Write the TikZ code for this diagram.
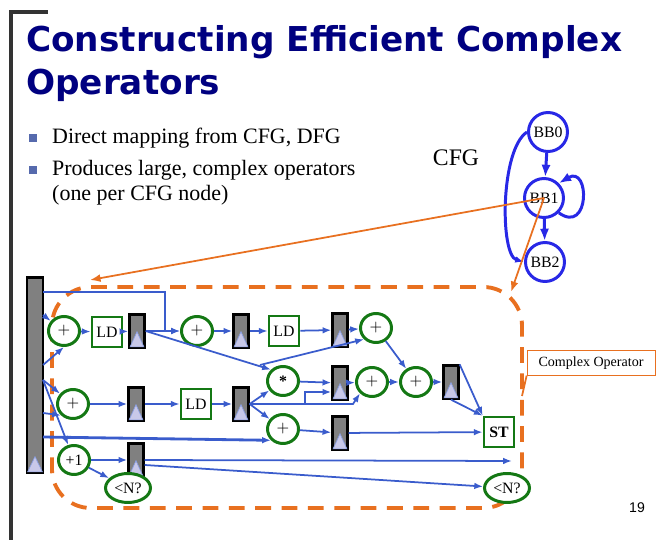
\documentclass[tikz,border=0pt]{standalone}
\usepackage{fontspec}
\setmainfont{Liberation Serif}
\newfontfamily\titlefont{DejaVu Sans}
\newfontfamily\pagefont{Liberation Sans}
\usetikzlibrary{arrows.meta,shapes.geometric}
\definecolor{wireblue}{RGB}{58,92,204}
\definecolor{cfgblue}{RGB}{40,40,230}
\definecolor{opgreen}{RGB}{20,120,20}
\definecolor{frameorange}{RGB}{232,112,32}
\definecolor{navy}{RGB}{0,0,128}
\definecolor{lav}{RGB}{200,200,232}
\tikzset{
  reg/.style={draw=black, line width=1.3pt, fill=gray, minimum width=0.3cm, minimum height=0.66cm, inner sep=0},
  op/.style={ellipse, draw=opgreen, line width=1.7pt, fill=white, minimum width=0.62cm, minimum height=0.58cm, inner sep=0, font=\fontsize{9}{9}\selectfont},
  mem/.style={draw=opgreen, line width=1.5pt, fill=white, minimum size=0.6cm, inner sep=0, font=\fontsize{9}{9}\selectfont},
  bb/.style={circle, draw=cfgblue, line width=1.7pt, minimum size=0.78cm, inner sep=0, font=\fontsize{9}{9}\selectfont},
  wire/.style={draw=wireblue, line width=1pt, -{Latex[length=5pt]}},
  point/.style={draw=frameorange, line width=1pt, -{Latex[length=6pt]}}
}
\begin{document}
\begin{tikzpicture}[x=0.02cm, y=-0.02cm]
    \useasboundingbox (0,0) rectangle (670,540);

    % slide frame and title
    \draw[line width=2pt, black!80] (11,540) -- (11,12) -- (48,12);
    \node[anchor=west, text=navy, font=\titlefont\bfseries\fontsize{19.5}{20}\selectfont] (title1) at (20,42) {Constructing Efficient Complex};
    \node[anchor=west, text=navy, font=\titlefont\bfseries\fontsize{19.5}{20}\selectfont] (title2) at (20,85) {Operators};

    % bullets
    \fill[wireblue!60!gray] (29,134) rectangle (37,142);
    \fill[wireblue!60!gray] (29,166) rectangle (37,174);
    \node[anchor=west, font=\fontsize{12.5}{14}\selectfont] (txt1) at (46,138) {Direct mapping from CFG, DFG};
    \node[anchor=west, font=\fontsize{12.5}{14}\selectfont] (txt2) at (46,170) {Produces large, complex operators};
    \node[anchor=west, font=\fontsize{12.5}{14}\selectfont] (txt3) at (46,195) {(one per CFG node)};

    % control flow graph
    \node[font=\fontsize{13.5}{14}\selectfont] (cfg) at (456,158) {CFG};
    \node[bb] (bb0) at (548,132) {BB0};
    \node[bb] (bb1) at (544,198) {BB1};
    \node[bb] (bb2) at (545,262) {BB2};
    \draw[draw=cfgblue, line width=1.7pt, -{Latex[length=7pt]}] (bb0) -- (bb1);
    \draw[draw=cfgblue, line width=1.7pt, -{Latex[length=7pt]}] (bb1) -- (bb2);
    \draw[draw=cfgblue, line width=1.7pt, -{Latex[length=7pt]}] (bb1.south east) .. controls (590,235) and (590,165) .. (bb1.north east);
    \draw[draw=cfgblue, line width=1.7pt, -{Latex[length=5pt]}] (bb0.west) .. controls (500,150) and (500,255) .. (bb2.west);

    % complex operator outline
    \draw[draw=frameorange, line width=2.2pt, dash pattern=on 9pt off 6pt, rounded corners=22pt] (52,287) rectangle (522,508);
    \node[draw=frameorange, fill=white, font=\fontsize{8}{9}\selectfont, minimum height=0.46cm, minimum width=2.56cm] (cplx) at (591,363) {Complex Operator};
    \draw[draw=frameorange, line width=1pt] (cplx.south west) -- (522,396);
    \draw[point] (bb1.center) -- (90,280);
    \draw[point] (bb1.center) -- (511,292);

    % registers
    \node[reg, minimum width=0.32cm, minimum height=3.9cm] (bar) at (35,375) {};
    \node[reg] (r1) at (137,331) {};
    \node[reg] (r2) at (241,331) {};
    \node[reg] (r3) at (340,330) {};
    \node[reg] (r4) at (340,383) {};
    \node[reg] (r5) at (340,433) {};
    \node[reg] (r6) at (451,382) {};
    \node[reg] (r7) at (241,404) {};
    \node[reg] (r8) at (136,404) {};
    \node[reg] (r9) at (136,460) {};
    \foreach \r in {bar,r1,r2,r3,r4,r5,r6,r7,r8,r9}
        \filldraw[fill=lav, draw=wireblue!60, line width=0.4pt] ([xshift=1pt,yshift=1pt]\r.south west) -- ([xshift=-1pt,yshift=1pt]\r.south east) -- ([yshift=0.34cm]\r.south) -- cycle;

    % operators
    \node[op] (add1) at (64,331) {$+$};
    \node[op] (add2) at (197,331) {$+$};
    \node[op] (add3) at (73,404) {$+$};
    \node[op] (inc) at (74,460) {+1};
    \node[op, minimum width=0.9cm] (cmp1) at (128,488) {<N?};
    \node[op] (mul) at (283,381) {\textbf{*}};
    \node[op] (add4) at (283,429) {$+$};
    \node[op] (add5) at (376,328) {$+$};
    \node[op] (add6) at (372,382) {$+$};
    \node[op] (add7) at (416,382) {$+$};
    \node[op, minimum width=0.9cm] (cmp2) at (507,488) {<N?};
    \node[mem] (ld1) at (107,332) {LD};
    \node[mem] (ld2) at (284,331) {LD};
    \node[mem] (ld3) at (196,404) {LD};
    \node[mem, font=\bfseries\fontsize{9}{9}\selectfont] (st) at (499,432) {ST};

    % ports on the register bar
    \coordinate (b1) at (43,292);
    \coordinate (b2) at (43,315);
    \coordinate (b3) at (43,365);
    \coordinate (b4) at (43,380);
    \coordinate (b5) at (43,413);
    \coordinate (b6) at (43,437);
    \coordinate (k1) at (260,365);
    \coordinate (k2) at (305,404);
    \coordinate (k3) at (353,404);

    % datapath
    \draw[wire] (b2) -- (add1);
    \draw[wire] (b3) -- (add1.south);
    \draw[wire] (b1) -- (165,292) -- (165,331) -- (add2);
    \draw[wire] (add1) -- (ld1);
    \draw[wire] (ld1) -- (r1);
    \draw[wire] (r1) -- (add2);
    \draw[wire] (add2) -- (r2);
    \draw[wire] (r2) -- (ld2);
    \draw[wire] (ld2) -- (r3);
    \draw[wire] (r3) -- (add5);
    \draw[wire] (r1.east) -- (mul.north west);
    \draw[wire] (k1) -- (add5.south west);
    \draw[wire] (b4) -- (add3);
    \draw[wire] (b5) -- (add3.south west);
    \draw[wire] (add3) -- (r8);
    \draw[wire] (r8) -- (ld3);
    \draw[wire] (ld3) -- (r7);
    \draw[wire] (r7.east) -- (mul);
    \draw[wire] (r7.east) -- (add4);
    \draw[wire] (r7.east) -- (k3) -- (add6.south west);
    \draw[wire] (k2) -- (305,392) -- (r4.west |- 0,392);
    \draw[wire] (mul) -- (r4);
    \draw[wire] (r4) -- (add6);
    \draw[wire] (add6) -- (add7);
    \draw[wire] (add5) -- (add7);
    \draw[wire] (add7) -- (r6);
    \draw[wire] (r6.north east) -- (st.north west);
    \draw[wire] (r6.south) -- (st.north west);
    \draw[wire, line width=1.6pt] (b6) -- (add4.south west);
    \draw[wire] (add4) -- (r5);
    \draw[wire] (r5) -- (st);
    \draw[wire] (b4) -- (inc);
    \draw[wire] (inc) -- (r9);
    \draw[wire] (inc) -- (cmp1);
    \draw[wire] (r9.east) -- (512,461);
    \draw[wire] ([yshift=-0.1cm]r9.east) -- (cmp2);

    \node[font=\pagefont\fontsize{8}{9}\selectfont] (page) at (637,508) {19};
\end{tikzpicture}
\end{document}
